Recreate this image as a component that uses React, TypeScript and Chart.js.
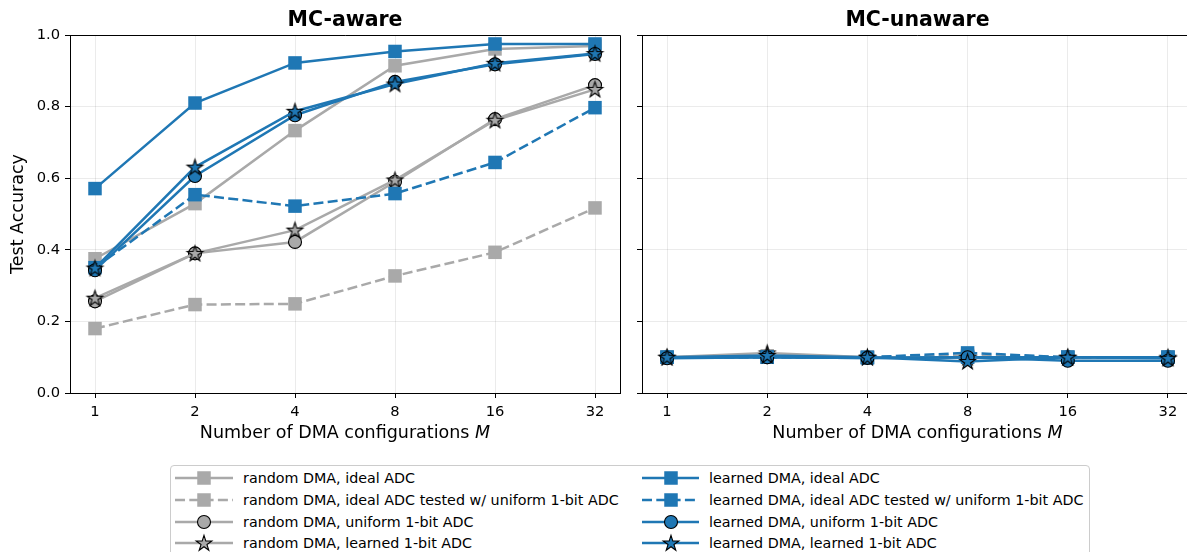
import React, { useEffect, useRef } from 'react';
import { Chart, registerables } from 'chart.js';

Chart.register(...registerables);

// ---------- data ----------
const M_LABELS = ['1', '2', '4', '8', '16', '32'];
const Y_TICKS = [0, 0.2, 0.4, 0.6, 0.8, 1.0];

const SERIES_NAMES = [
  'random DMA, ideal ADC',
  'random DMA, ideal ADC tested w/ uniform 1-bit ADC',
  'random DMA, uniform 1-bit ADC',
  'random DMA, learned 1-bit ADC',
  'learned DMA, ideal ADC',
  'learned DMA, ideal ADC tested w/ uniform 1-bit ADC',
  'learned DMA, uniform 1-bit ADC',
  'learned DMA, learned 1-bit ADC',
];

// MC-aware
const awareRandomIdeal = [0.375, 0.529, 0.733, 0.914, 0.961, 0.969];
const awareRandomIdealTested = [0.18, 0.247, 0.249, 0.327, 0.393, 0.517];
const awareRandomUniform = [0.256, 0.39, 0.422, 0.59, 0.765, 0.86];
const awareRandomLearned = [0.265, 0.39, 0.455, 0.595, 0.762, 0.848];
const awareLearnedIdeal = [0.571, 0.81, 0.922, 0.954, 0.975, 0.975];
const awareLearnedIdealTested = [0.35, 0.554, 0.522, 0.557, 0.644, 0.797];
const awareLearnedUniform = [0.343, 0.606, 0.776, 0.869, 0.918, 0.947];
const awareLearnedLearned = [0.349, 0.631, 0.787, 0.863, 0.921, 0.948];

// MC-unaware
const unawareRandomIdeal = [0.1, 0.104, 0.1, 0.1, 0.1, 0.1];
const unawareRandomIdealTested = [0.1, 0.1, 0.1, 0.105, 0.1, 0.1];
const unawareRandomUniform = [0.1, 0.1, 0.1, 0.1, 0.1, 0.1];
const unawareRandomLearned = [0.1, 0.112, 0.1, 0.1, 0.1, 0.1];
const unawareLearnedIdeal = [0.1, 0.1, 0.098, 0.1, 0.1, 0.1];
const unawareLearnedIdealTested = [0.1, 0.1, 0.1, 0.112, 0.1, 0.1];
const unawareLearnedUniform = [0.097, 0.1, 0.098, 0.1, 0.09, 0.09];
const unawareLearnedLearned = [0.1, 0.105, 0.1, 0.088, 0.1, 0.097];

const AWARE = [
  awareRandomIdeal, awareRandomIdealTested, awareRandomUniform, awareRandomLearned,
  awareLearnedIdeal, awareLearnedIdealTested, awareLearnedUniform, awareLearnedLearned,
];
const UNAWARE = [
  unawareRandomIdeal, unawareRandomIdealTested, unawareRandomUniform, unawareRandomLearned,
  unawareLearnedIdeal, unawareLearnedIdealTested, unawareLearnedUniform, unawareLearnedLearned,
];

// ---------- styles ----------
const GRAY = '#a9a9a9';
const BLUE = '#1f77b4';
const FONT = '"DejaVu Sans", sans-serif';
const LINE_W = 2.5;
const DASH = [10, 4.3];
const SQ_SIDE = 13.5;
const CIRCLE_R = 6.5;
const STAR_R = 8.2;
const TICK_SIZE = 14.7;
const LABEL_SIZE = 17.5;
const TITLE_SIZE = 20.5;
const LEGEND_SIZE = 14.3;

type Marker = 'square' | 'circle' | 'star';
const STYLES: { color: string; dashed: boolean; marker: Marker }[] = [
  { color: GRAY, dashed: false, marker: 'square' },
  { color: GRAY, dashed: true, marker: 'square' },
  { color: GRAY, dashed: false, marker: 'circle' },
  { color: GRAY, dashed: false, marker: 'star' },
  { color: BLUE, dashed: false, marker: 'square' },
  { color: BLUE, dashed: true, marker: 'square' },
  { color: BLUE, dashed: false, marker: 'circle' },
  { color: BLUE, dashed: false, marker: 'star' },
];

function starPoints(cx: number, cy: number, r: number): [number, number][] {
  const pts: [number, number][] = [];
  const inner = r * 0.381966;
  for (let k = 0; k < 10; k++) {
    const ang = -Math.PI / 2 + (k * Math.PI) / 5;
    const rr = k % 2 === 0 ? r : inner;
    pts.push([cx + rr * Math.cos(ang), cy + rr * Math.sin(ang)]);
  }
  return pts;
}

function makeStar(color: string): HTMLCanvasElement {
  const size = Math.ceil(STAR_R * 2 + 4);
  const c = document.createElement('canvas');
  c.width = size;
  c.height = size;
  const ctx = c.getContext('2d')!;
  const pts = starPoints(size / 2, size / 2 + 0.6, STAR_R);
  ctx.beginPath();
  pts.forEach(([x, y], i) => (i === 0 ? ctx.moveTo(x, y) : ctx.lineTo(x, y)));
  ctx.closePath();
  ctx.fillStyle = color;
  ctx.fill();
  ctx.lineWidth = 1.1;
  ctx.lineJoin = 'miter';
  ctx.strokeStyle = '#000';
  ctx.stroke();
  return c;
}

function makeDatasets(values: number[][]) {
  return STYLES.map((s, i) => {
    let pointStyle: any = 'rect';
    let radius = SQ_SIDE / Math.SQRT2;
    if (s.marker === 'circle') {
      pointStyle = 'circle';
      radius = CIRCLE_R;
    } else if (s.marker === 'star') {
      pointStyle = makeStar(s.color);
      radius = STAR_R;
    }
    return {
      label: SERIES_NAMES[i],
      data: values[i].map((v, j) => ({ x: j, y: v })),
      borderColor: s.color,
      backgroundColor: s.color,
      borderWidth: LINE_W,
      borderDash: s.dashed ? DASH : [],
      pointStyle,
      pointRadius: radius,
      pointHoverRadius: radius,
      pointBackgroundColor: s.color,
      pointBorderColor: s.marker === 'square' ? s.color : '#000',
      pointBorderWidth: s.marker === 'square' ? 0 : 1.1,
      tension: 0,
      clip: false as any,
      order: 20 - i,
    };
  });
}

function align(p: number) {
  return Math.round(p - 0.5) + 0.5;
}

function framePlugin(title: string) {
  return {
    id: 'frame_' + title,
    afterDraw(chart: any) {
      const { ctx, chartArea: a } = chart;
      ctx.save();
      ctx.strokeStyle = '#000';
      ctx.lineWidth = 1;
      ctx.beginPath();
      ctx.moveTo(a.left, align(a.top));
      ctx.lineTo(align(a.right), align(a.top));
      ctx.lineTo(align(a.right), a.bottom);
      ctx.stroke();
      ctx.beginPath();
      ctx.moveTo(align(a.left), a.top);
      ctx.lineTo(align(a.left), a.bottom);
      ctx.moveTo(a.left, align(a.bottom));
      ctx.lineTo(a.right, align(a.bottom));
      ctx.stroke();

      const cx = (a.left + a.right) / 2;
      // panel title
      ctx.fillStyle = '#000';
      ctx.font = `bold ${TITLE_SIZE}px ${FONT}`;
      ctx.textAlign = 'center';
      ctx.textBaseline = 'alphabetic';
      ctx.fillText(title, cx, 26);

      // x-axis title with italic M
      const t1 = 'Number of DMA configurations ';
      const t2 = 'M';
      ctx.font = `${LABEL_SIZE}px ${FONT}`;
      const w1 = ctx.measureText(t1).width;
      ctx.font = `italic ${LABEL_SIZE}px ${FONT}`;
      const w2 = ctx.measureText(t2).width;
      const x0 = cx - (w1 + w2) / 2;
      ctx.textAlign = 'left';
      ctx.font = `${LABEL_SIZE}px ${FONT}`;
      ctx.fillText(t1, x0, a.bottom + 45);
      ctx.font = `italic ${LABEL_SIZE}px ${FONT}`;
      ctx.fillText(t2, x0 + w1, a.bottom + 45);
      ctx.restore();
    },
  };
}

function makeConfig(values: number[][], title: string, showY: boolean, padRight: number, yWidth: number): any {
  const grid = {
    color: 'rgba(0,0,0,0.08)',
    lineWidth: 1,
    drawTicks: true,
    tickLength: 5,
    tickColor: '#000',
    tickWidth: 1,
  };
  return {
    type: 'line',
    data: { datasets: makeDatasets(values) },
    options: {
      responsive: false,
      animation: false,
      devicePixelRatio: 1,
      layout: { autoPadding: false, padding: { top: 35, right: padRight, left: 0, bottom: 0 } },
      plugins: {
        legend: { display: false },
        tooltip: { enabled: false },
        title: { display: false },
      },
      scales: {
        x: {
          type: 'linear',
          min: -0.25,
          max: 5.25,
          afterBuildTicks: (s: any) => {
            s.ticks = M_LABELS.map((_, i) => ({ value: i }));
          },
          afterFit: (s: any) => {
            s.height = 62;
            s.paddingLeft = 0;
            s.paddingRight = 0;
          },
          ticks: {
            callback: (v: any) => M_LABELS[v as number],
            font: { family: FONT, size: TICK_SIZE },
            color: '#000',
            padding: 5,
            maxRotation: 0,
            autoSkip: false,
          },
          grid,
          border: { display: true, color: '#000', width: 1 },
        },
        y: {
          type: 'linear',
          min: 0,
          max: 1,
          afterBuildTicks: (s: any) => {
            s.ticks = Y_TICKS.map((v) => ({ value: v }));
          },
          afterFit: (s: any) => {
            s.width = yWidth;
            s.paddingTop = 0;
            s.paddingBottom = 0;
          },
          ticks: {
            display: showY,
            callback: (v: any) => Number(v).toFixed(1),
            font: { family: FONT, size: TICK_SIZE },
            color: '#000',
            padding: 5,
          },
          title: {
            display: showY,
            text: 'Test Accuracy',
            font: { family: FONT, size: LABEL_SIZE },
            color: '#000',
            padding: { top: 8, bottom: 0 },
          },
          grid,
          border: { display: true, color: '#000', width: 1 },
        },
      },
    },
    plugins: [framePlugin(title)],
  };
}

// ---------- legend ----------
const LEG_ROW_Y = [13, 35, 57, 78];
const LEG_COLS = [
  { x1: 5, x2: 63, xm: 34, xt: 73 },
  { x1: 472, x2: 529, xm: 501, xt: 539 },
];

function LegendHandle({ idx, col, y }: { idx: number; col: number; y: number }) {
  const s = STYLES[idx];
  const c = LEG_COLS[col];
  let marker: any = null;
  if (s.marker === 'square') {
    marker = <rect x={c.xm - SQ_SIDE / 2} y={y - SQ_SIDE / 2} width={SQ_SIDE} height={SQ_SIDE} fill={s.color} />;
  } else if (s.marker === 'circle') {
    marker = <circle cx={c.xm} cy={y} r={CIRCLE_R} fill={s.color} stroke="#000" strokeWidth={1.1} />;
  } else {
    const pts = starPoints(c.xm, y + 0.6, STAR_R).map((p) => p.join(',')).join(' ');
    marker = <polygon points={pts} fill={s.color} stroke="#000" strokeWidth={1.1} />;
  }
  return (
    <g>
      <line
        x1={c.x1}
        x2={c.x2}
        y1={y}
        y2={y}
        stroke={s.color}
        strokeWidth={LINE_W}
        strokeDasharray={s.dashed ? DASH.join(' ') : undefined}
      />
      {marker}
      <text x={c.xt} y={y} dominantBaseline="central" fontFamily={FONT} fontSize={LEGEND_SIZE} fill="#000">
        {SERIES_NAMES[idx]}
      </text>
    </g>
  );
}

function Legend() {
  return (
    <div
      style={{
        position: 'absolute',
        left: 170,
        top: 465,
        width: 920,
        height: 110,
        border: '1px solid #cccccc',
        borderRadius: 4,
        boxSizing: 'border-box',
        background: '#fff',
      }}
    >
      <svg width={920} height={110} style={{ position: 'absolute', left: -1, top: -1 }}>
        {SERIES_NAMES.map((_, i) => (
          <LegendHandle key={i} idx={i} col={i < 4 ? 0 : 1} y={LEG_ROW_Y[i % 4]} />
        ))}
      </svg>
    </div>
  );
}

export default function App() {
  const leftRef = useRef<HTMLCanvasElement>(null);
  const rightRef = useRef<HTMLCanvasElement>(null);

  useEffect(() => {
    const left = new Chart(leftRef.current!, makeConfig(AWARE, 'MC-aware', true, 12, 70));
    const right = new Chart(rightRef.current!, makeConfig(UNAWARE, 'MC-unaware', false, 0, 10));
    return () => {
      left.destroy();
      right.destroy();
    };
  }, []);

  return (
    <div
      style={{
        position: 'absolute',
        left: 0,
        top: 0,
        width: 1187,
        height: 552,
        overflow: 'hidden',
        background: '#fff',
      }}
    >
      <canvas ref={leftRef} width={632} height={455} style={{ position: 'absolute', left: 0, top: 0 }} />
      <canvas ref={rightRef} width={561} height={455} style={{ position: 'absolute', left: 632, top: 0 }} />
      <Legend />
    </div>
  );
}
